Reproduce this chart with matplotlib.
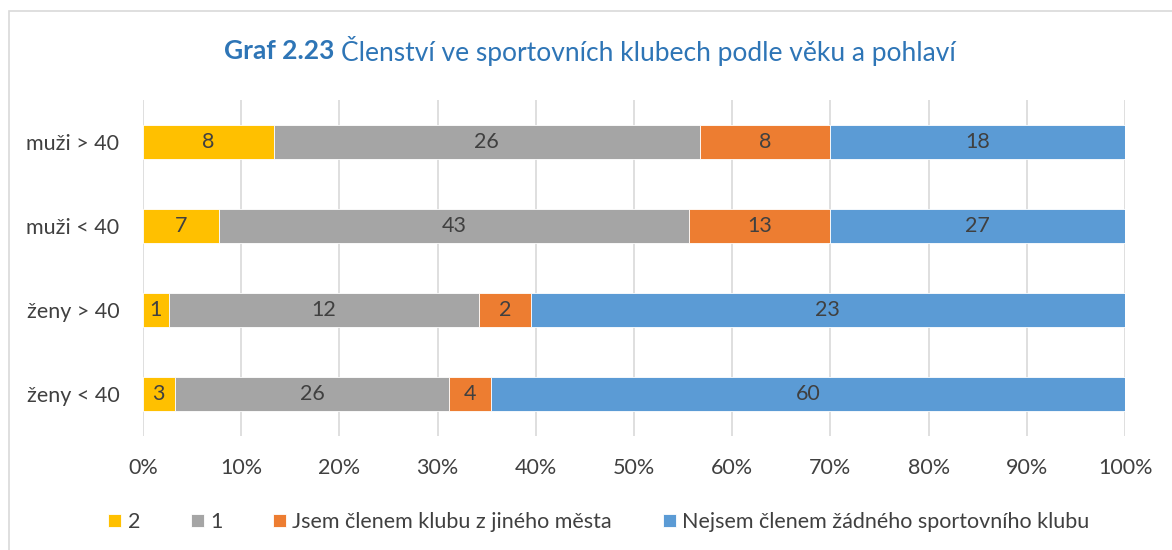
import numpy as np
import matplotlib.pyplot as plt
from matplotlib.patches import Rectangle

plt.rcParams['font.family'] = ['Lato', 'DejaVu Sans']

kategorie = ['ženy < 40', 'ženy > 40', 'muži < 40', 'muži > 40']
serie = ['2', '1', 'Jsem členem klubu z jiného města', 'Nejsem členem žádného sportovního klubu']
hodnoty = {
    '2': [3, 1, 7, 8],
    '1': [26, 12, 43, 26],
    'Jsem členem klubu z jiného města': [4, 2, 13, 8],
    'Nejsem členem žádného sportovního klubu': [60, 23, 27, 18],
}
barvy = ['#FFC000', '#A5A5A5', '#ED7D31', '#5B9BD5']
text_barva = '#404040'
fs = 15.5

fig = plt.figure(figsize=(11.72, 5.5), dpi=100)
ax = fig.add_axes([0.122, 1 - 436 / 550, 0.838, 336 / 550])

data = np.array([hodnoty[s] for s in serie], dtype=float)
celkem = data.sum(axis=0)
podil = data / celkem
y = np.arange(len(kategorie))
left = np.zeros(len(kategorie))
for i, s in enumerate(serie):
    ax.barh(y, podil[i], left=left, height=0.4, color=barvy[i],
            edgecolor='white', linewidth=0.6, label=s, zorder=3)
    for j in range(len(kategorie)):
        ax.text(left[j] + podil[i][j] / 2, y[j], str(int(data[i][j])),
                ha='center', va='center', fontsize=fs, color=text_barva, zorder=4)
    left += podil[i]

ax.set_xlim(0, 1)
ax.set_ylim(-0.5, 3.5)
ax.set_xticks(np.linspace(0, 1, 11))
ax.set_xticklabels([f'{int(round(v * 100))}%' for v in np.linspace(0, 1, 11)])
ax.set_yticks(y)
ax.set_yticklabels(kategorie)
ax.tick_params(axis='both', length=0, labelsize=fs, labelcolor=text_barva)
ax.tick_params(axis='x', pad=16)
ax.tick_params(axis='y', pad=17)
ax.grid(axis='x', color='#D9D9D9', linewidth=1.2, zorder=0)
for sp in ax.spines.values():
    sp.set_visible(False)

# titulek ze dvou kusu, tucne jen cislo grafu
renderer = fig.canvas.get_renderer()
cast1 = 'Graf 2.23 '
cast2 = 'Členství ve sportovních klubech podle věku a pohlaví'
a = fig.text(0, 0.907, cast1, color='#2E75B6', fontsize=19, fontweight='bold', va='center')
b = fig.text(0, 0.907, cast2, color='#2E75B6', fontsize=19, va='center')
wa = a.get_window_extent(renderer).width / fig.bbox.width
wb = b.get_window_extent(renderer).width / fig.bbox.width
x0 = 0.503 - (wa + wb) / 2
a.set_x(x0)
b.set_x(x0 + wa)

ax.legend(loc='center', bbox_to_anchor=(0.511, 0.051), bbox_transform=fig.transFigure,
          ncol=4, frameon=False, fontsize=fs, handlelength=0.6, handleheight=0.6,
          handletextpad=0.3, columnspacing=2.35, labelcolor=text_barva)

fig.patches.append(Rectangle((0.0075, -0.01), 1.0, 0.99, transform=fig.transFigure,
                             fill=False, edgecolor='#D9D9D9', linewidth=1.2))

fig.savefig('out.png', dpi=100)
